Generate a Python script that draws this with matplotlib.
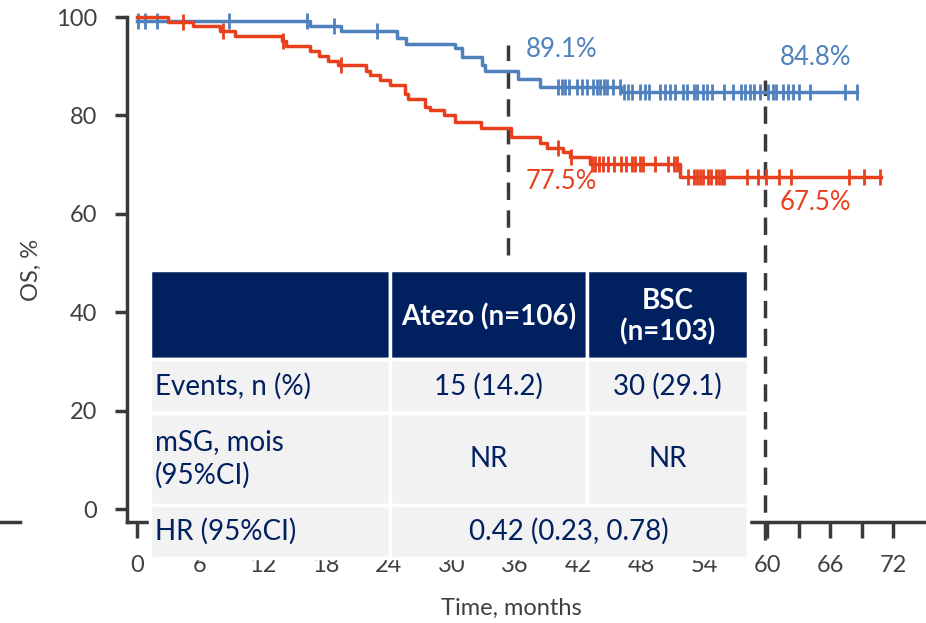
import numpy as np
import matplotlib
matplotlib.use('Agg')
import matplotlib.pyplot as plt
from matplotlib.patches import Rectangle

plt.rcParams['font.family'] = ['Lato', 'DejaVu Sans']

# Kaplan-Meier steps (months, OS %)
atezo_t = [0, 16.5, 19.4, 24.8, 25.6, 30.3, 31.0, 32.9, 33.1, 36.3, 38.4, 46.1, 68.6]
atezo_s = [99.1, 98.2, 97.2, 95.8, 94.6, 93.6, 91.8, 90.2, 89.1, 87.3, 85.8, 84.8, 84.8]
atezo_cens = [0.1, 0.8, 1.9, 8.8, 16.2, 18.8, 22.9,
              40.1, 40.5, 40.8, 41.1, 41.9, 42.4, 42.9, 43.4, 43.8, 44.1, 44.5, 44.8, 45.3, 46.0,
              46.4, 46.8, 47.1, 47.9, 48.4, 48.8, 49.8, 50.3, 50.8, 51.2, 52.0, 52.4, 53.0, 53.3,
              53.9, 54.3, 54.8, 55.9, 56.8, 57.5, 57.9, 58.4, 58.8, 59.3, 60.1, 60.6, 60.9, 61.5,
              62.0, 62.5, 63.0, 64.1, 67.4, 68.6]

bsc_t = [0, 3.0, 5.3, 7.9, 9.3, 13.8, 14.2, 16.5, 17.3, 18.2, 19.1, 21.8, 22.2, 23.1, 24.1,
         25.5, 25.8, 27.4, 27.9, 29.2, 30.3, 32.8, 35.6, 38.4, 39.0, 40.6, 41.2, 43.1, 51.7, 70.9]
bsc_s = [100, 99.0, 98.1, 97.1, 96.1, 95.1, 94.2, 93.1, 92.1, 91.1, 90.2, 89.0, 88.2, 87.2, 86.2,
         84.3, 83.3, 81.7, 81.1, 80.1, 78.7, 77.5, 75.6, 74.4, 73.4, 72.5, 71.5, 70.2, 67.5, 67.5]
bsc_cens = [4.4, 8.2, 13.9, 19.4, 40.1, 41.3,
            43.3, 43.6, 44.0, 44.4, 44.9, 45.4, 46.1, 46.6, 47.1, 47.4, 47.9, 48.2, 49.3, 50.6,
            51.1, 51.4, 52.5, 53.0, 53.3, 53.6, 53.9, 54.4, 54.7, 55.1, 55.4, 55.7, 55.9,
            58.1, 59.1, 59.9, 61.1, 62.3, 67.8, 69.2, 70.8]

# landmark lines as drawn (3 yr / 5 yr)
landmarks = [35.3, 59.8]
atezo_lbl = ['89.1%', '84.8%']
bsc_lbl = ['77.5%', '67.5%']

blue = '#4F81BD'
red = '#E8401C'
grey = '#3a3a3a'
navy = '#002060'


def step_at(times, vals, pts):
    idx = np.searchsorted(times, pts, side='right') - 1
    return np.asarray(vals)[idx]


fig = plt.figure(figsize=(9.26, 6.23), dpi=100)
ax = fig.add_axes([127 / 926, 101 / 623, 1 - 127 / 926, 505 / 623])
ax.set_xlim(-0.95, 75.14)
ax.set_ylim(-2.64, 100)

for t, s, c, col in [(atezo_t, atezo_s, atezo_cens, blue), (bsc_t, bsc_s, bsc_cens, red)]:
    ax.step(t, s, where='post', color=col, lw=2.5, clip_on=False, zorder=3)
    ax.plot(c, step_at(t, s, c), ls='none', marker='|', ms=12, mew=2, color=col,
            clip_on=False, zorder=3)

# landmark dashed lines
ax.plot([landmarks[0]] * 2, [51.6, 94.3], color=grey, lw=2.5, ls=(0, (5, 3)), zorder=2)
ax.plot([landmarks[1]] * 2, [-6.3, 87.2], color=grey, lw=2.5, ls=(0, (5, 3)), zorder=2,
        clip_on=False)

ax.text(landmarks[0] + 1.75, 93.3, atezo_lbl[0], color=blue, fontsize=18.5, va='center')
ax.text(landmarks[0] + 1.75, 66.5, bsc_lbl[0], color=red, fontsize=18.5, va='center')
ax.text(landmarks[1] + 1.4, 91.7, atezo_lbl[1], color=blue, fontsize=18.5, va='center')
ax.text(landmarks[1] + 1.4, 62.2, bsc_lbl[1], color=red, fontsize=18.5, va='center')

for side in ['top', 'right']:
    ax.spines[side].set_visible(False)
for side in ['left', 'bottom']:
    ax.spines[side].set_color(grey)
    ax.spines[side].set_linewidth(2.5)
ax.spines['left'].set_bounds(-2.64, 100)

ax.set_yticks(range(0, 101, 20))
ax.set_xticks(np.arange(0, 73, 3))
ax.set_xticklabels([str(v) if v % 6 == 0 else '' for v in range(0, 73, 3)])
ax.tick_params(axis='y', length=9, width=2.5, color=grey, labelsize=17,
               labelcolor='#404040', pad=12.5)
ax.tick_params(axis='x', length=11.5, width=2.5, color=grey, labelsize=17,
               labelcolor='#404040', pad=12)

ax.set_ylabel('OS, %', fontsize=17, color='#404040')
ax.yaxis.set_label_coords(-0.107, 0.5)
ax.set_xlabel('Time, months', fontsize=17, color='#404040')
ax.xaxis.set_label_coords(0.481, -0.15)

# summary table overlay (pixel coordinates)
tab = fig.add_axes([0, 0, 1, 1], zorder=5)
tab.set_xlim(0, 926)
tab.set_ylim(623, 0)
tab.axis('off')
tab.plot([0, 20], [522, 522], color=grey, lw=2.5)

col_x = [150, 390, 587, 748]
row_y = [270, 359, 413, 505, 558]
header = ['', 'Atezo (n=106)', 'BSC\n(n=103)']
row_names = ['Events, n (%)', 'mSG, mois\n(95%CI)', 'HR (95%CI)']
atezo_col = ['15 (14.2)', 'NR']
bsc_col = ['30 (29.1)', 'NR']
hr_text = '0.42 (0.23, 0.78)'

fs = 20
for j in range(3):
    x0, x1 = col_x[j], col_x[j + 1]
    tab.add_patch(Rectangle((x0, row_y[0]), x1 - x0, row_y[1] - row_y[0],
                            facecolor=navy, edgecolor='white', lw=2.5))
    if header[j]:
        tab.text((x0 + x1) / 2, (row_y[0] + row_y[1]) / 2 + 2, header[j], color='white',
                 fontsize=fs, fontweight='bold', ha='center', va='center', linespacing=1.2)

for i in range(3):
    y0, y1 = row_y[i + 1], row_y[i + 2]
    yc = (y0 + y1) / 2
    tab.add_patch(Rectangle((col_x[0], y0), col_x[1] - col_x[0], y1 - y0,
                            facecolor='#F2F2F2', edgecolor='white', lw=2.5))
    tab.text(col_x[0] + 5, yc, row_names[i], color=navy, fontsize=fs, ha='left',
             va='center', linespacing=1.3)
    if i < 2:
        for j, vals in [(1, atezo_col), (2, bsc_col)]:
            tab.add_patch(Rectangle((col_x[j], y0), col_x[j + 1] - col_x[j], y1 - y0,
                                    facecolor='#F2F2F2', edgecolor='white', lw=2.5))
            tab.text((col_x[j] + col_x[j + 1]) / 2, yc, vals[i], color=navy, fontsize=fs,
                     ha='center', va='center')
    else:
        tab.add_patch(Rectangle((col_x[1], y0), col_x[3] - col_x[1], y1 - y0,
                                facecolor='#F2F2F2', edgecolor='white', lw=2.5))
        tab.text((col_x[1] + col_x[3]) / 2, yc, hr_text, color=navy, fontsize=fs,
                 ha='center', va='center')

fig.savefig('out.png', dpi=100)
